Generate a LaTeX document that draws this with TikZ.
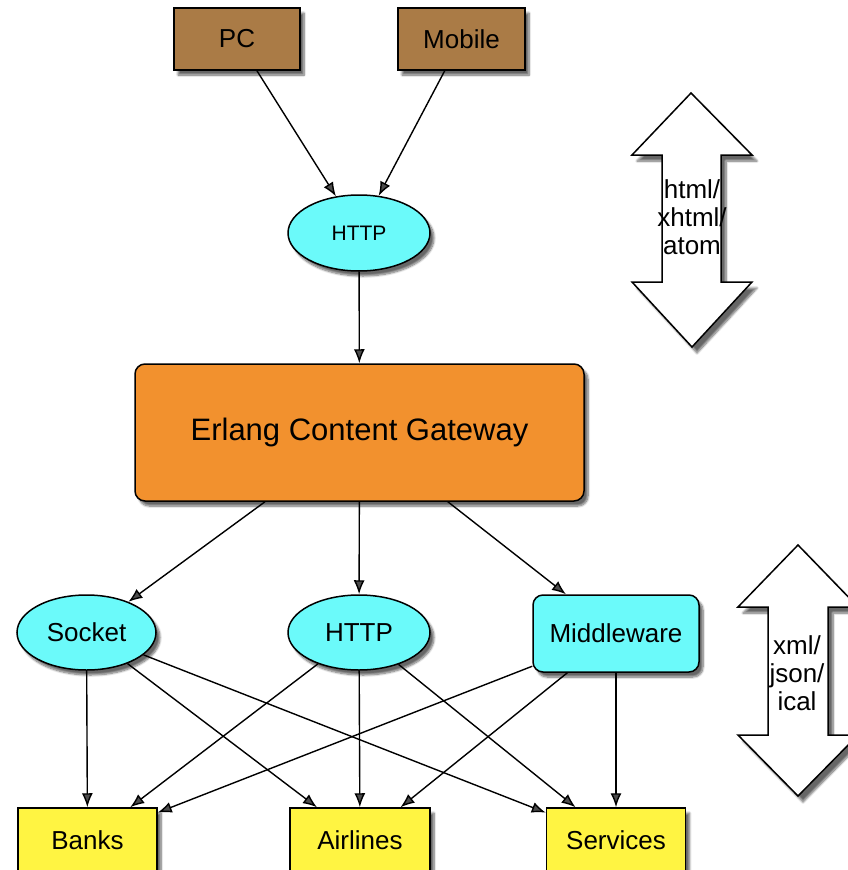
\documentclass[tikz,border=0pt]{standalone}
\usepackage{fontspec}
\setmainfont{Liberation Sans}
\usetikzlibrary{arrows.meta,shapes.geometric,shadows.blur}

\definecolor{clientbrown}{HTML}{AA7B46}
\definecolor{protocyan}{HTML}{6BFAFA}
\definecolor{gatewayorange}{HTML}{F2912E}
\definecolor{targetyellow}{HTML}{FFF442}

\begin{document}
\begin{tikzpicture}[x=1pt,y=-1pt,
    base/.style={draw,line width=1.5pt,inner sep=0pt,
        font=\fontsize{26}{30}\selectfont,
        blur shadow={shadow xshift=4pt,shadow yshift=-5pt,
            shadow blur steps=8,shadow opacity=60}},
    client/.style={base,rectangle,fill=clientbrown,
        minimum width=126pt,minimum height=62pt},
    proto/.style={base,ellipse,fill=protocyan,
        minimum width=141pt,minimum height=75pt},
    gateway/.style={base,rectangle,rounded corners=10pt,fill=gatewayorange,
        minimum width=449pt,minimum height=137pt,
        font=\fontsize{31}{36}\selectfont},
    target/.style={base,rectangle,fill=targetyellow,
        minimum width=139pt,minimum height=64pt},
    conn/.style={-{Latex[length=14pt,width=11pt]},line width=1.4pt},
    bigarrow/.style={draw,fill=white,line width=1.5pt,
        blur shadow={shadow xshift=5pt,shadow yshift=-6pt,
            shadow blur steps=8,shadow opacity=60}},
    arrowtext/.style={align=center,inner sep=0pt,
        font=\fontsize{26}{28}\selectfont}]
    \useasboundingbox (0,0) rectangle (848,870);

    % clients
    \node[client] (pc) at (237,39) {PC};
    \node[client,minimum width=127pt] (mobile) at (461.5,39) {Mobile};
    \node[proto,minimum width=142pt,minimum height=76pt,
        font=\fontsize{21}{25}\selectfont] (front) at (359,233) {HTTP};

    % gateway
    \node[gateway] (ecg) at (359.5,432.5) {Erlang Content Gateway};

    % back-end protocols
    \node[proto,minimum width=139pt] (socket) at (86.5,632.5) {Socket};
    \node[proto,minimum width=142pt] (http) at (359,632.5) {HTTP};
    \node[base,rectangle,rounded corners=10pt,fill=protocyan,
        minimum width=166pt,minimum height=77pt] (middle) at (616,633.5) {Middleware};

    % providers
    \node[target] (banks) at (87.5,840) {Banks};
    \node[target,minimum width=140pt] (airlines) at (360,840) {Airlines};
    \node[target] (services) at (616,840) {Services};

    % formats
    \draw[bigarrow] (691,93) -- (752,155) -- (721,155) -- (721,282)
        -- (752,282) -- (692,347) -- (632,282) -- (662,282)
        -- (662,155) -- (632,155) -- cycle;
    \node[arrowtext] (fmtup) at (692,217) {html/\\xhtml/\\atom};
    \draw[bigarrow] (798,545) -- (858,607) -- (828,607) -- (828,735)
        -- (858,735) -- (798,796) -- (738,735) -- (768,735)
        -- (768,607) -- (738,607) -- cycle;
    \node[arrowtext] (fmtdown) at (797,673) {xml/\\json/\\ical};

    % connectors
    \draw[conn] (pc) -- (front);
    \draw[conn] (mobile) -- (front);
    \draw[conn] (front) -- (ecg);
    \draw[conn] (ecg) -- (socket);
    \draw[conn] (ecg) -- (http);
    \draw[conn] (ecg) -- (middle);
    \draw[conn] (socket) -- (banks);
    \draw[conn] (socket) -- (airlines);
    \draw[conn] (socket) -- (services);
    \draw[conn] (http) -- (banks);
    \draw[conn] (http) -- (airlines);
    \draw[conn] (http) -- (services);
    \draw[conn] (middle) -- (banks);
    \draw[conn] (middle) -- (airlines);
    \draw[conn] (middle) -- (services);
\end{tikzpicture}
\end{document}
